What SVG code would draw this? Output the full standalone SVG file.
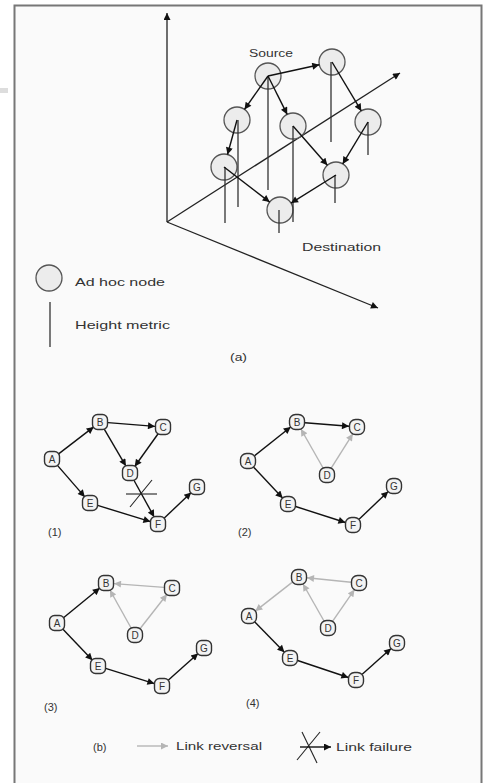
<svg xmlns="http://www.w3.org/2000/svg" width="485" height="783" viewBox="0 0 485 783">
<style>
text{font-family:"Liberation Sans",Arial,sans-serif;fill:#333;}
.lbl{font-size:11px;}
.nl{font-size:10px;text-anchor:middle;dominant-baseline:central;}
.hn{fill:#ececec;stroke:#555;stroke-width:1.3;}
.bn{fill:#f3f3f3;stroke:#333;stroke-width:1.4;}
.e{stroke:#111;stroke-width:1.4;fill:none;marker-end:url(#ah);}
.g{stroke:#b5b5b5;stroke-width:1.4;fill:none;marker-end:url(#ag);}
.h{stroke:#333;stroke-width:1.3;}
.ax{stroke:#222;stroke-width:1.3;fill:none;marker-end:url(#ah);}
</style>
<defs>
<marker id="ah" viewBox="0 0 10 10" refX="10" refY="5" markerWidth="9" markerHeight="7" markerUnits="userSpaceOnUse" orient="auto"><path d="M0,0L10,5L0,10z" fill="#111"/></marker>
<marker id="ag" viewBox="0 0 10 10" refX="10" refY="5" markerWidth="9" markerHeight="7" markerUnits="userSpaceOnUse" orient="auto"><path d="M0,0L10,5L0,10z" fill="#b5b5b5"/></marker>
</defs>
<rect x="0" y="0" width="485" height="783" fill="#fff"/>
<rect x="0" y="88" width="8" height="5" fill="#ddd"/>
<rect x="14.5" y="5.5" width="467" height="790" fill="#fafafa" stroke="#777" stroke-width="2"/>

<!-- part (a) -->
<g id="axes">
<line class="ax" x1="167" y1="222" x2="167" y2="13"/>
<line class="ax" x1="167" y1="222" x2="400" y2="73" stroke-width="0.9"/>
<line class="ax" x1="167" y1="222" x2="378" y2="308"/>
</g>
<g id="a-nodes">
<g id="a-source"><circle class="hn" cx="268" cy="76" r="13"/></g>
<g id="a-tr"><circle class="hn" cx="332" cy="62" r="13"/></g>
<g id="a-l"><circle class="hn" cx="237" cy="120" r="13"/></g>
<g id="a-c"><circle class="hn" cx="293" cy="126" r="13"/></g>
<g id="a-r"><circle class="hn" cx="368" cy="122" r="13"/></g>
<g id="a-ll"><circle class="hn" cx="224" cy="167" r="13"/></g>
<g id="a-lr"><circle class="hn" cx="336" cy="175" r="13"/></g>
<g id="a-dest"><circle class="hn" cx="280" cy="210" r="13"/></g>
</g>
<g id="a-heights">
<line class="h" x1="268" y1="76" x2="268" y2="190"/>
<line class="h" x1="331" y1="62" x2="331" y2="142"/>
<line class="h" x1="238" y1="120" x2="238" y2="207"/>
<line class="h" x1="293" y1="126" x2="293" y2="222"/>
<line class="h" x1="368" y1="122" x2="368" y2="155"/>
<line class="h" x1="225" y1="167" x2="225" y2="223"/>
<line class="h" x1="335" y1="175" x2="335" y2="203"/>
<line class="h" x1="279" y1="210" x2="279" y2="233"/>
</g>
<g id="a-edges">
<line class="e" x1="268" y1="76" x2="319.3" y2="64.8"/>
<line class="e" x1="268" y1="76" x2="244.5" y2="109.4"/>
<line class="e" x1="268" y1="76" x2="287.2" y2="114.4"/>
<line class="e" x1="332" y1="62" x2="361.3" y2="110.9"/>
<line class="e" x1="237" y1="120" x2="227.5" y2="154.5"/>
<line class="e" x1="293" y1="126" x2="327.4" y2="165.2"/>
<line class="e" x1="368" y1="122" x2="342.7" y2="163.9"/>
<line class="e" x1="224" y1="167" x2="269.7" y2="202.1"/>
<line class="e" x1="336" y1="175" x2="291" y2="203.1"/>
</g>
<text class="lbl" x="249" y="57" textLength="44" lengthAdjust="spacingAndGlyphs">Source</text>
<text class="lbl" x="302" y="251" textLength="79" lengthAdjust="spacingAndGlyphs">Destination</text>
<g id="legend-a">
<circle class="hn" cx="49" cy="278" r="13"/>
<text class="lbl" x="75" y="286" textLength="90" lengthAdjust="spacingAndGlyphs">Ad hoc node</text>
<line class="h" x1="50" y1="302" x2="50" y2="347"/>
<text class="lbl" x="75" y="329" textLength="95" lengthAdjust="spacingAndGlyphs">Height metric</text>
<text class="lbl" x="230" y="361" textLength="17" lengthAdjust="spacingAndGlyphs">(a)</text>
</g>

<!-- panel 1 -->
<g id="p1-edges">
<line class="e" x1="58.3" y1="454.1" x2="93.7" y2="426.9"/>
<line class="e" x1="108" y1="422.6" x2="155" y2="426.4"/>
<line class="e" x1="104.1" y1="428.9" x2="125.9" y2="466.1"/>
<line class="e" x1="158.3" y1="433.5" x2="134.7" y2="466.5"/>
<line class="e" x1="57.2" y1="465.1" x2="84.8" y2="496.9"/>
<line class="e" x1="97.6" y1="505.4" x2="150.4" y2="521.6"/>
<line class="e" x1="133.8" y1="480" x2="154.2" y2="517"/>
<line class="e" x1="163.8" y1="518.5" x2="191.2" y2="492.5"/>
<line stroke="#222" stroke-width="1.1" x1="126" y1="494" x2="157" y2="494"/>
<line stroke="#222" stroke-width="1.1" x1="130" y1="507" x2="152" y2="480"/>
</g>
<g id="p1-A"><rect class="bn" x="44.5" y="451.5" width="15" height="15" rx="5"/><text class="nl" x="52" y="459">A</text></g>
<g id="p1-B"><rect class="bn" x="92.5" y="414.5" width="15" height="15" rx="5"/><text class="nl" x="100" y="422">B</text></g>
<g id="p1-C"><rect class="bn" x="155.5" y="419.5" width="15" height="15" rx="5"/><text class="nl" x="163" y="427">C</text></g>
<g id="p1-D"><rect class="bn" x="122.5" y="465.5" width="15" height="15" rx="5"/><text class="nl" x="130" y="473">D</text></g>
<g id="p1-E"><rect class="bn" x="82.5" y="495.5" width="15" height="15" rx="5"/><text class="nl" x="90" y="503">E</text></g>
<g id="p1-F"><rect class="bn" x="150.5" y="516.5" width="15" height="15" rx="5"/><text class="nl" x="158" y="524">F</text></g>
<g id="p1-G"><rect class="bn" x="189.5" y="479.5" width="15" height="15" rx="5"/><text class="nl" x="197" y="487">G</text></g>
<text class="lbl" x="48" y="536">(1)</text>

<!-- panel 2 -->
<g id="p2-edges">
<line class="e" x1="254.3" y1="456" x2="290.7" y2="427"/>
<line class="e" x1="305" y1="422.7" x2="349" y2="426.3"/>
<line class="g" x1="323.1" y1="468" x2="300.9" y2="429"/>
<line class="g" x1="331.2" y1="468.2" x2="352.8" y2="433.8"/>
<line class="e" x1="253.4" y1="466.9" x2="282.6" y2="498.1"/>
<line class="e" x1="295.6" y1="506.5" x2="345.4" y2="522.5"/>
<line class="e" x1="358.8" y1="519.5" x2="388.2" y2="491.5"/>
</g>
<g id="p2-A"><rect class="bn" x="240.5" y="453.5" width="15" height="15" rx="6"/><text class="nl" x="248" y="461">A</text></g>
<g id="p2-B"><rect class="bn" x="289.5" y="414.5" width="15" height="15" rx="6"/><text class="nl" x="297" y="422">B</text></g>
<g id="p2-C"><rect class="bn" x="349.5" y="419.5" width="15" height="15" rx="6"/><text class="nl" x="357" y="427">C</text></g>
<g id="p2-D"><rect class="bn" x="319.5" y="467.5" width="15" height="15" rx="6"/><text class="nl" x="327" y="475">D</text></g>
<g id="p2-E"><rect class="bn" x="280.5" y="496.5" width="15" height="15" rx="6"/><text class="nl" x="288" y="504">E</text></g>
<g id="p2-F"><rect class="bn" x="345.5" y="517.5" width="15" height="15" rx="6"/><text class="nl" x="353" y="525">F</text></g>
<g id="p2-G"><rect class="bn" x="386.5" y="478.5" width="15" height="15" rx="6"/><text class="nl" x="394" y="486">G</text></g>
<text class="lbl" x="238" y="536">(2)</text>

<!-- panel 3 -->
<g id="p3-edges">
<line class="e" x1="63.2" y1="618" x2="99.8" y2="588"/>
<line class="g" x1="164" y1="587.4" x2="114" y2="583.6"/>
<line class="g" x1="131.1" y1="628" x2="109.9" y2="590"/>
<line class="g" x1="140" y1="628.7" x2="167" y2="594.3"/>
<line class="e" x1="62.5" y1="628.8" x2="92.5" y2="660.2"/>
<line class="e" x1="105.6" y1="668.4" x2="154.4" y2="683.6"/>
<line class="e" x1="167.9" y1="680.6" x2="198.1" y2="653.4"/>
</g>
<g id="p3-A"><rect class="bn" x="49.5" y="615.5" width="15" height="15" rx="5"/><text class="nl" x="57" y="623">A</text></g>
<g id="p3-B"><rect class="bn" x="98.5" y="575.5" width="15" height="15" rx="5"/><text class="nl" x="106" y="583">B</text></g>
<g id="p3-C"><rect class="bn" x="164.5" y="580.5" width="15" height="15" rx="5"/><text class="nl" x="172" y="588">C</text></g>
<g id="p3-D"><rect class="bn" x="127.5" y="627.5" width="15" height="15" rx="6"/><text class="nl" x="135" y="635">D</text></g>
<g id="p3-E"><rect class="bn" x="90.5" y="658.5" width="15" height="15" rx="5"/><text class="nl" x="98" y="666">E</text></g>
<g id="p3-F"><rect class="bn" x="154.5" y="678.5" width="15" height="15" rx="5"/><text class="nl" x="162" y="686">F</text></g>
<g id="p3-G"><rect class="bn" x="196.5" y="640.5" width="15" height="15" rx="5"/><text class="nl" x="204" y="648">G</text></g>
<text class="lbl" x="44" y="711">(3)</text>

<!-- panel 4 -->
<g id="p4-edges">
<line class="g" x1="292.7" y1="581.9" x2="255.3" y2="611.1"/>
<line class="g" x1="351" y1="582.2" x2="307" y2="577.8"/>
<line class="g" x1="324" y1="621" x2="303" y2="584"/>
<line class="g" x1="332.5" y1="621.4" x2="354.5" y2="589.6"/>
<line class="e" x1="254.6" y1="621.7" x2="284.4" y2="652.3"/>
<line class="e" x1="297.6" y1="660.5" x2="348.4" y2="677.5"/>
<line class="e" x1="361.9" y1="674.6" x2="391.1" y2="648.4"/>
</g>
<g id="p4-A"><rect class="bn" x="241.5" y="608.5" width="15" height="15" rx="6"/><text class="nl" x="249" y="616">A</text></g>
<g id="p4-B"><rect class="bn" x="291.5" y="569.5" width="15" height="15" rx="6"/><text class="nl" x="299" y="577">B</text></g>
<g id="p4-C"><rect class="bn" x="351.5" y="575.5" width="15" height="15" rx="6"/><text class="nl" x="359" y="583">C</text></g>
<g id="p4-D"><rect class="bn" x="320.5" y="620.5" width="15" height="15" rx="6"/><text class="nl" x="328" y="628">D</text></g>
<g id="p4-E"><rect class="bn" x="282.5" y="650.5" width="15" height="15" rx="6"/><text class="nl" x="290" y="658">E</text></g>
<g id="p4-F"><rect class="bn" x="348.5" y="672.5" width="15" height="15" rx="6"/><text class="nl" x="356" y="680">F</text></g>
<g id="p4-G"><rect class="bn" x="389.5" y="635.5" width="15" height="15" rx="6"/><text class="nl" x="397" y="643">G</text></g>
<text class="lbl" x="246" y="707">(4)</text>

<!-- legend (b) -->
<g id="legend-b">
<text class="lbl" x="93" y="751">(b)</text>
<line class="g" x1="137" y1="746" x2="168" y2="746"/>
<text class="lbl" x="176" y="750" textLength="86" lengthAdjust="spacingAndGlyphs">Link reversal</text>
<line stroke="#222" stroke-width="1.1" x1="302" y1="732" x2="317" y2="763"/>
<line stroke="#222" stroke-width="1.1" x1="320" y1="732" x2="297" y2="760"/>
<line class="e" x1="300" y1="747" x2="331" y2="747"/>
<text class="lbl" x="336" y="751" textLength="76" lengthAdjust="spacingAndGlyphs">Link failure</text>
</g>
</svg>
